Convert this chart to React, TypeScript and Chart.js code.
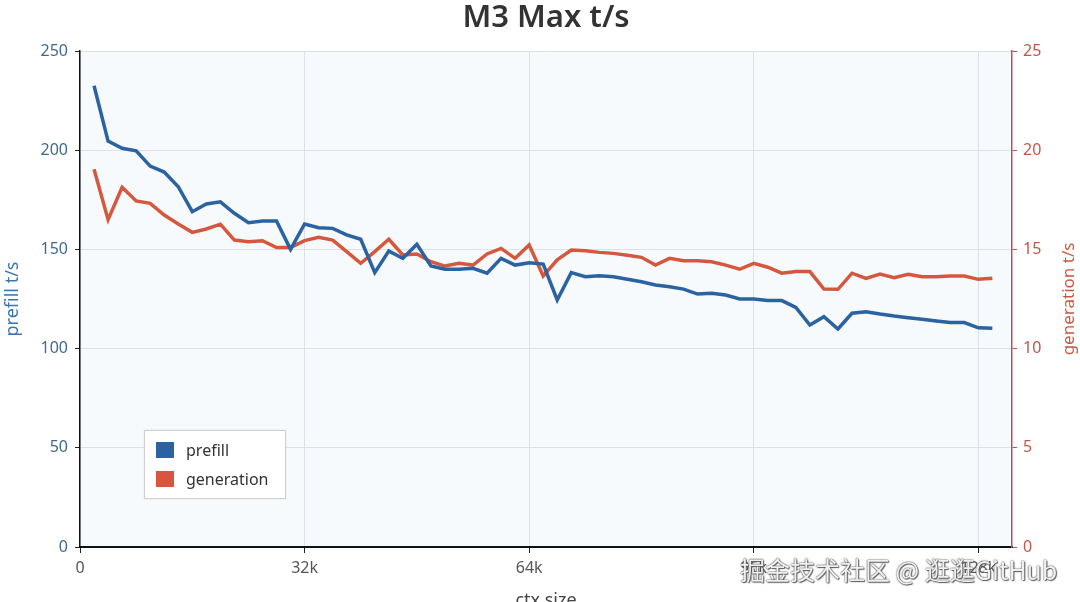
import React, { useEffect, useRef } from 'react';
import { Chart, registerables } from 'chart.js';

Chart.register(...registerables);

// context size in k tokens
const ctxK = [
  2, 4, 6, 8, 10, 12, 14, 16, 18, 20, 22, 24, 26, 28, 30, 32, 34, 36, 38, 40,
  42, 44, 46, 48, 50, 52, 54, 56, 58, 60, 62, 64, 66, 68, 70, 72, 74, 76, 78, 80,
  82, 84, 86, 88, 90, 92, 94, 96, 98, 100, 102, 104, 106, 108, 110, 112, 114, 116, 118, 120,
  122, 124, 126, 128, 130,
];

const prefill = [
  232.5, 204.6, 201, 199.7, 192, 189, 181.6, 169, 172.9, 174,
  168.2, 163.5, 164.3, 164.3, 150, 162.8, 160.9, 160.6, 157.3, 155.1,
  138.3, 149.2, 145.5, 152.6, 141.6, 140, 140, 140.5, 138, 145.5,
  142.1, 143.3, 142.6, 124.5, 138.3, 136.2, 136.7, 136.2, 135, 133.7,
  132.1, 131.2, 130, 127.5, 127.9, 127, 125, 125, 124.2, 124.2,
  120.8, 111.9, 116.1, 109.9, 117.8, 118.6, 117.4, 116.4, 115.6, 114.8,
  113.9, 113.1, 113.1, 110.5, 110.2,
];

const generation = [
  19.04, 16.5, 18.13, 17.44, 17.32, 16.73, 16.28, 15.86, 16.03, 16.27,
  15.47, 15.39, 15.44, 15.09, 15.1, 15.44, 15.61, 15.47, 14.89, 14.3,
  14.89, 15.51, 14.72, 14.77, 14.38, 14.16, 14.3, 14.21, 14.77, 15.05,
  14.55, 15.22, 13.66, 14.47, 14.97, 14.93, 14.85, 14.8, 14.7, 14.6,
  14.21, 14.55, 14.43, 14.43, 14.38, 14.21, 14.0, 14.3, 14.1, 13.8,
  13.88, 13.88, 13.0, 12.99, 13.8, 13.54, 13.76, 13.57, 13.74, 13.62,
  13.62, 13.66, 13.66, 13.49, 13.54,
];

const BLUE = '#2a62a2';
const RED = '#d5583e';
const FONT = "'Noto Sans', 'Liberation Sans', sans-serif";

const plotBg = {
  id: 'plotBg',
  beforeDraw(chart: any) {
    const { ctx, chartArea: a } = chart;
    ctx.save();
    ctx.fillStyle = '#f7fafd';
    ctx.fillRect(a.left, a.top, a.right - a.left, a.bottom - a.top);
    ctx.restore();
  },
};

// title centred over the plot area, right axis title reads bottom-to-top
const extraText = {
  id: 'extraText',
  afterDraw(chart: any) {
    const { ctx, chartArea: a } = chart;
    ctx.save();
    ctx.fillStyle = '#333';
    ctx.font = `600 31px ${FONT}`;
    ctx.textAlign = 'center';
    ctx.textBaseline = 'middle';
    ctx.fillText('M3 Max t/s', (a.left + a.right) / 2, 18);
    ctx.translate(1069, (a.top + a.bottom) / 2);
    ctx.rotate(-Math.PI / 2);
    ctx.fillStyle = '#c9573f';
    ctx.font = `17px ${FONT}`;
    ctx.fillText('generation t/s', 0, 0);
    ctx.restore();
  },
};

export default function App() {
  const canvasRef = useRef<HTMLCanvasElement | null>(null);

  useEffect(() => {
    if (!canvasRef.current) return;
    const chart = new Chart(canvasRef.current, {
      type: 'line',
      data: {
        datasets: [
          {
            label: 'prefill',
            data: ctxK.map((x, i) => ({ x, y: prefill[i] })),
            borderColor: BLUE,
            backgroundColor: BLUE,
            borderWidth: 3.5,
            pointRadius: 0,
            yAxisID: 'y',
          },
          {
            label: 'generation',
            data: ctxK.map((x, i) => ({ x, y: generation[i] })),
            borderColor: RED,
            backgroundColor: RED,
            borderWidth: 3.5,
            pointRadius: 0,
            yAxisID: 'y1',
          },
        ],
      },
      options: {
        responsive: true,
        maintainAspectRatio: false,
        animation: false,
        layout: { padding: { top: 51 } },
        plugins: {
          legend: { display: false },
          tooltip: { enabled: false },
          title: { display: false },
        },
        scales: {
          x: {
            type: 'linear',
            min: 0,
            max: 132.8,
            afterFit: (s: any) => { s.height = 65; },
            afterBuildTicks: (s: any) => {
              s.ticks = [0, 32, 64, 96, 128].map(v => ({ value: v }));
            },
            ticks: {
              color: '#555',
              font: { family: FONT, size: 16 },
              padding: 6,
              maxRotation: 0,
              callback: (v: any) => (v === 0 ? '0' : v + 'k'),
            },
            grid: { color: '#dde2e8', tickColor: '#222', tickLength: 6 },
            border: { color: '#111', width: 2 },
            title: {
              display: true,
              text: 'ctx size',
              color: '#444',
              font: { family: FONT, size: 18 },
              padding: { bottom: 0 },
            },
          },
          y: {
            position: 'left',
            min: 0,
            max: 250,
            afterFit: (s: any) => { s.width = 80; },
            ticks: {
              stepSize: 50,
              color: '#41698f',
              font: { family: FONT, size: 16 },
              padding: 7,
            },
            grid: { color: '#dde2e8', tickColor: '#222', tickLength: 5 },
            border: { color: '#111', width: 1.5 },
            title: {
              display: true,
              text: 'prefill t/s',
              color: '#3a77b2',
              font: { family: FONT, size: 18 },
              padding: { top: 2 },
            },
          },
          y1: {
            position: 'right',
            min: 0,
            max: 25,
            afterFit: (s: any) => { s.width = 68; },
            ticks: {
              stepSize: 5,
              color: '#c0584a',
              font: { family: FONT, size: 16 },
              padding: 6,
            },
            grid: { drawOnChartArea: false, tickColor: '#c0504d', tickLength: 5 },
            border: { color: '#c0504d', width: 1.5 },
          },
        },
      },
      plugins: [plotBg, extraText],
    });
    return () => chart.destroy();
  }, []);

  return (
    <div style={{ position: 'fixed', left: 0, top: 0, width: 1080, height: 602, overflow: 'hidden', background: '#fff' }}>
      <div style={{ position: 'relative', width: 1080, height: 612 }}>
        <canvas ref={canvasRef} />
      </div>
      <div
        style={{
          position: 'absolute', left: 144, top: 430, width: 140, height: 67,
          background: '#fff', border: '1px solid #cfcfcf', boxShadow: '0 0 2px rgba(0,0,0,0.08)',
          fontFamily: FONT, fontSize: 16, color: '#333',
        }}
      >
        <div style={{ position: 'absolute', left: 11, top: 11, width: 18, height: 16, background: BLUE }} />
        <div style={{ position: 'absolute', left: 41, top: 8, lineHeight: '22px' }}>prefill</div>
        <div style={{ position: 'absolute', left: 11, top: 40, width: 18, height: 16, background: '#d9553f' }} />
        <div style={{ position: 'absolute', left: 41, top: 37, lineHeight: '22px' }}>generation</div>
      </div>
      <div
        style={{
          position: 'absolute', left: 740, top: 553, fontSize: 25, lineHeight: '32px',
          fontFamily: "'Noto Sans CJK SC', sans-serif", color: 'rgba(255,255,255,0.92)',
          textShadow: '0 0 1px #444, 0 0 2px #555, 1px 1px 1px #666', whiteSpace: 'nowrap',
        }}
      >
        掘金技术社区 @ 逛逛GitHub
      </div>
    </div>
  );
}
